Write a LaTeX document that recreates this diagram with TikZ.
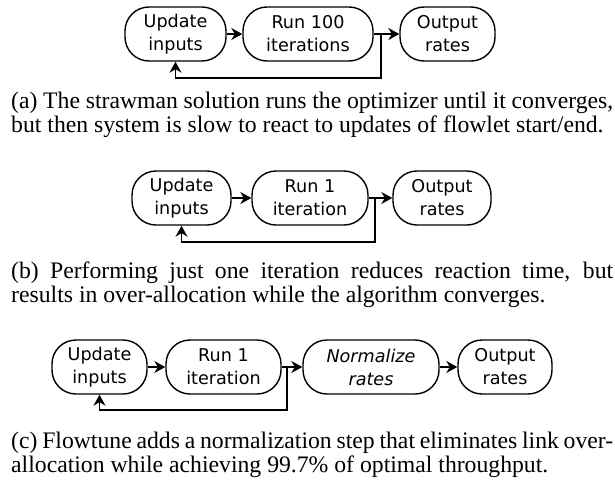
\documentclass[tikz,border=0pt]{standalone}
\usepackage{fontspec}
\setmainfont{Liberation Serif}
\newfontfamily\boxfont{DejaVu Sans}
\usetikzlibrary{arrows.meta}
\tikzset{
  proc/.style={draw, line width=1.4pt, rounded corners=24pt, minimum height=54pt,
    inner sep=0pt, align=center, font=\boxfont\fontsize{17.6}{23}\selectfont},
  flow/.style={line width=1.4pt, -{Stealth[length=11pt,width=12pt]}},
  captext/.style={anchor=base west, inner sep=0pt, align=left,
    font=\fontsize{23.7}{23.5}\selectfont}
}
\newcommand{\capline}[1]{\makebox[602pt][s]{#1}}
\begin{document}
\begin{tikzpicture}[x=1pt,y=-1pt]
\useasboundingbox (0,0) rectangle (615,482);
% row a
\node[proc, minimum width=101pt] (a1) at (175.5,34) {Update\\inputs};
\node[proc, minimum width=130pt] (a2) at (308,34) {Run 100\\iterations};
\node[proc, minimum width=95pt] (a3) at (447.5,34) {Output\\rates};
\coordinate (ab) at (381,34);
\coordinate (abr) at (381,78);
\draw[flow] (a1) -- (a2);
\draw[flow] (a2) -- (a3);
\draw[flow] (ab) -- (abr) -| (a1.south);
\node[captext] (capa) at (11,132) {\capline{(a) The strawman solution runs the optimizer until it converges,}\\but then system is slow to react to updates of flowlet start/end.};
% row b
\node[proc, minimum width=99pt] (b1) at (181.5,198) {Update\\inputs};
\node[proc, minimum width=116pt] (b2) at (310,198) {Run 1\\iteration};
\node[proc, minimum width=98pt] (b3) at (442,198) {Output\\rates};
\coordinate (bb) at (375,198);
\coordinate (bbr) at (375,242);
\draw[flow] (b1) -- (b2);
\draw[flow] (b2) -- (b3);
\draw[flow] (bb) -- (bbr) -| (b1.south);
\node[captext] (capb) at (11,302) {\capline{(b) Performing just one iteration reduces reaction time, but}\\results in over-allocation while the algorithm converges.};
% row c
\node[proc, minimum width=95pt] (c1) at (99.5,367) {Update\\inputs};
\node[proc, minimum width=115pt] (c2) at (223.5,367) {Run 1\\iteration};
\node[proc, minimum width=136pt] (c3) at (371,367) {\itshape Normalize\\\itshape rates};
\node[proc, minimum width=94pt] (c4) at (505,367) {Output\\rates};
\coordinate (cb) at (287,367);
\coordinate (cbr) at (287,410);
\draw[flow] (c1) -- (c2);
\draw[flow] (c2) -- (c3);
\draw[flow] (c3) -- (c4);
\draw[flow] (cb) -- (cbr) -| (c1.south);
\node[captext] (capc) at (11,472) {\capline{(c) Flowtune adds a normalization step that eliminates link over-}\\allocation while achieving 99.7\% of optimal throughput.};
\end{tikzpicture}
\end{document}
